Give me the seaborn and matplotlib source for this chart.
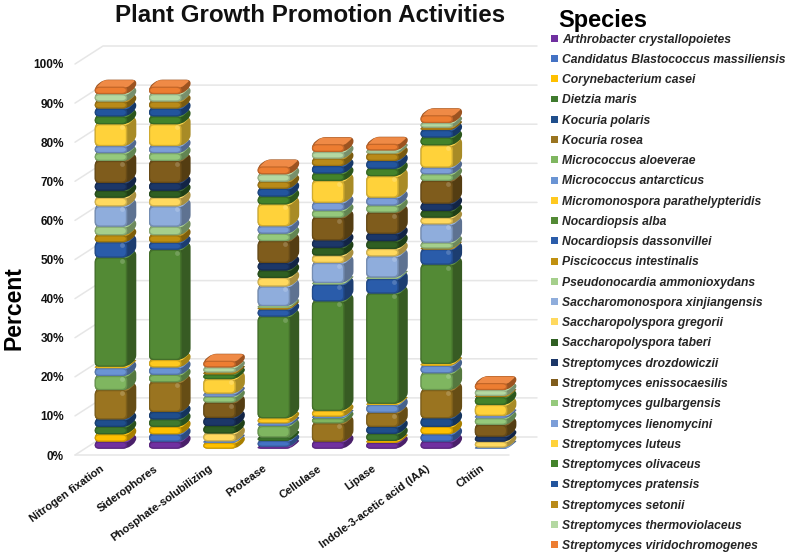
import seaborn as sns
import matplotlib.pyplot as plt
import numpy as np
from matplotlib.patches import PathPatch, Patch
from matplotlib.path import Path
from matplotlib.colors import to_rgb
from matplotlib.transforms import ScaledTranslation

species = ["Arthrobacter crystallopoietes", "Candidatus Blastococcus massiliensis", "Corynebacterium casei",
           "Dietzia maris", "Kocuria polaris", "Kocuria rosea", "Micrococcus aloeverae", "Micrococcus antarcticus",
           "Micromonospora parathelypteridis", "Nocardiopsis alba", "Nocardiopsis dassonvillei",
           "Piscicoccus intestinalis", "Pseudonocardia ammonioxydans", "Saccharomonospora xinjiangensis",
           "Saccharopolyspora gregorii", "Saccharopolyspora taberi", "Streptomyces drozdowiczii",
           "Streptomyces enissocaesilis", "Streptomyces gulbargensis", "Streptomyces lienomycini",
           "Streptomyces luteus", "Streptomyces olivaceus", "Streptomyces pratensis", "Streptomyces setonii",
           "Streptomyces thermoviolaceus", "Streptomyces viridochromogenes"]
colors = ["#7030A0", "#4472C4", "#FFC000", "#3F7A2E", "#1F4E8C", "#9A7420", "#7FB660", "#6A94D4", "#FFC91F",
          "#538A35", "#2A5CAA", "#C09010", "#A5CF8C", "#8FADDC", "#FFD95F", "#2F5F22", "#1C3768", "#7F5C1C",
          "#95C97C", "#7C9ED8", "#FFD23A", "#43832B", "#22559E", "#B98A18", "#B4D8A2", "#ED7D31"]

activities = ["Nitrogen fixation", "Siderophores", "Phosphate-solubilizing", "Protease", "Cellulase", "Lipase",
              "Indole-3-acetic acid (IAA)", "Chitin"]
# one entry per species, same order as the legend
nitrogen = [1.8, 0, 1.9, 1.9, 1.9, 7.5, 3.6, 2.0, 0.4, 27.9, 3.9, 1.8, 2.2, 5.2, 2.2, 1.8, 2.0, 5.6, 2.0, 1.8, 5.6, 2.0, 2.0, 1.8, 1.9, 1.9]
sidero = [1.8, 1.9, 1.9, 1.9, 1.9, 7.6, 1.9, 1.9, 1.9, 28.2, 1.8, 1.9, 2.2, 5.2, 2.2, 1.8, 2.0, 5.6, 2.0, 1.8, 5.6, 2.0, 2.0, 1.8, 1.9, 1.9]
phosphate = [0, 0, 1.5, 0, 0, 0, 0, 0.4, 0, 0, 0, 0, 0, 0, 2.0, 1.9, 2.1, 3.9, 1.5, 0.8, 3.7, 1.2, 0, 0.5, 1.3, 1.7]
protease = [0.5, 1.5, 0, 0.9, 0, 0, 2.9, 0.7, 1.3, 26, 1.8, 0.4, 0.5, 5, 2.2, 1.9, 1.9, 5.6, 1.9, 1.9, 5.6, 2, 2, 1.8, 1.9, 2]
cellulase = [1.8, 0, 0, 0, 0, 4.7, 1.3, 0.4, 1.5, 28, 4.3, 0, 0.4, 5.1, 1.9, 2, 1.9, 5.8, 1.8, 2, 5.6, 1.9, 1.9, 1.9, 1.7, 2]
lipase = [1.5, 0, 0.5, 1.8, 1.8, 3.6, 0, 2, 0.3, 28.2, 3.7, 0, 0.4, 5.4, 1.9, 2, 1.9, 5.4, 1.8, 2, 5.5, 1.9, 2, 1.9, 0.8, 1.7]
iaa = [1.8, 1.9, 1.9, 0, 2.2, 7.2, 4.3, 1.9, 0.5, 25.4, 3.9, 0.2, 1.5, 4.7, 1.7, 1.7, 1.9, 5.8, 1.7, 1.7, 5.7, 2, 1.9, 0.6, 1.2, 2]
chitin = [0, 0, 0, 0, 0, 0, 0, 0.3, 0, 0, 0, 0, 0, 0, 1.5, 0, 1.3, 3, 1.7, 0.6, 2.8, 2, 0, 0.3, 1.5, 1.8]

table = np.array([nitrogen, sidero, phosphate, protease, cellulase, lipase, iaa, chitin])

sns.set_theme(style="white")
plt.rcParams['font.family'] = ['Liberation Sans', 'DejaVu Sans']

W, H = 789, 558
fig = plt.figure(figsize=(W / 100, H / 100), dpi=100)
ax = fig.add_axes([75 / W, (H - 455) / H, 434 / W, 391 / H])

# px per data unit, used to keep the fake 3d depth in data units
sx = 54.3
sy = 3.91

bottoms = np.zeros(len(activities))
for i, sp in enumerate(species):
    sns.barplot(x=activities, y=table[:, i], bottom=bottoms, color=colors[i], width=0.6, saturation=1, ax=ax)
    bottoms = bottoms + table[:, i]
ax.set_xlim(-36 / sx, 398 / sx)
ax.set_ylim(0, 100)

# excel style 3d: walls, then rounded boxes on top of the real bars


def round_poly(pts, r):
    verts = []
    codes = []
    n = len(pts)
    for k in range(n):
        p = np.array(pts[k])
        a = np.array(pts[k - 1])
        b = np.array(pts[(k + 1) % n])
        pa = (a - p) * [sx, sy]
        pb = (b - p) * [sx, sy]
        ra = min(r, np.hypot(*pa) / 2)
        rb = min(r, np.hypot(*pb) / 2)
        start = p + pa / np.hypot(*pa) * ra / [sx, sy]
        end = p + pb / np.hypot(*pb) * rb / [sx, sy]
        verts += [start, p, end]
        codes += [Path.LINETO, Path.CURVE3, Path.CURVE3]
    codes[0] = Path.MOVETO
    verts.append(verts[0])
    codes.append(Path.CLOSEPOLY)
    return Path(verts, codes)


def shade(c, f):
    c = np.array(to_rgb(c))
    if f < 1:
        return tuple(c * f)
    return tuple(c + (1 - c) * (f - 1))


def add(path, col, z, alpha=1.0):
    ax.add_patch(PathPatch(path, facecolor=col, edgecolor='none', zorder=z, clip_on=False, alpha=alpha))


wall_x = 28 / sx
wall_y = 18 / sy
right = ax.get_xlim()[1]
left = ax.get_xlim()[0]
grid = "#E6E6E6"
for t in np.arange(0, 101, 10):
    ax.plot([left, left + wall_x, right + wall_x], [t, t + wall_y, t + wall_y], color=grid, lw=1.1, zorder=1, clip_on=False)
ax.plot([left, right], [0, 0], color=grid, lw=1.1, zorder=1, clip_on=False)

lift = 6.3 / sy
dx = 9 / sx
dy = 7 / sy
bars = list(ax.patches)
z = 3
for bar in bars:
    bar.set_visible(False)
order = sorted(bars, key=lambda b: (round(b.get_x(), 3), b.get_y()))
for bar in order:
    h = bar.get_height()
    if h <= 0:
        continue
    c = bar.get_facecolor()
    x0 = bar.get_x()
    w = bar.get_width()
    y0 = bar.get_y() + lift
    y1 = y0 + h
    x1 = x0 + w
    # silhouette / side face
    add(round_poly([(x0, y0), (x1, y0), (x1 + dx, y0 + dy), (x1 + dx, y1 + dy), (x0 + dx, y1 + dy), (x0, y1)], 4.5), shade(c, 0.66), z)
    # top face
    add(round_poly([(x0 + 1 / sx, y1 - 1 / sy), (x1, y1 - 1 / sy), (x1 + dx - 0.5 / sx, y1 + dy - 0.5 / sy), (x0 + dx, y1 + dy - 0.5 / sy)], 3), shade(c, 1.1), z + 0.1)
    # front face
    add(round_poly([(x0, y0), (x1, y0), (x1, y1), (x0, y1)], 4.5), shade(c, 0.82), z + 0.2)
    inset = min(1.2, h * sy / 3)
    add(round_poly([(x0 + inset / sx, y0 + inset / sy), (x1 - 1.5 / sx, y0 + inset / sy),
                    (x1 - 1.5 / sx, y1 - inset / sy), (x0 + inset / sx, y1 - inset / sy)], 4), c, z + 0.3)
    # glint near the back corner on the taller blocks
    if h * sy > 14:
        ax.scatter([x1 - 5 / sx], [y1 - 3 / sy], s=12, color=shade(c, 1.3), alpha=0.6, linewidths=0, zorder=z + 0.4, clip_on=False)
    z += 1

ax.set_yticks(np.arange(0, 101, 10))
ax.set_yticklabels([f"{t}%" for t in range(0, 101, 10)], fontsize=8.5, fontweight='bold', color='#111111')
ax.set_xticks(range(len(activities)))
ax.set_xticklabels(activities, rotation=36, ha='right', rotation_mode='anchor', fontsize=8, fontweight='bold', color='#111111')
ax.tick_params(axis='both', length=0)
ax.tick_params(axis='y', pad=8)
ax.tick_params(axis='x', pad=6)
shift = ScaledTranslation(-11 / 100, 0, fig.dpi_scale_trans)
for lab in ax.get_xticklabels():
    lab.set_transform(lab.get_transform() + shift)
ax.set_xlabel("")
ax.set_ylabel("")
for s in ax.spines.values():
    s.set_visible(False)
ax.patch.set_alpha(0)

fig.text(310 / W, 1 - 16 / H, "Plant Growth Promotion Activities", ha='center', va='center', fontsize=17.4, fontweight='bold', color='#111111')
fig.text(14 / W, 1 - 308 / H, "Percent", rotation=90, ha='center', va='center', fontsize=16.5, fontweight='bold', color='black')
fig.text(558 / W, 1 - 20 / H, "Species", ha='left', va='center', fontsize=17, fontweight='bold', color='black')

handles = [Patch(facecolor=c, edgecolor='none', label=s) for s, c in zip(species, colors)]
leg = ax.legend(handles=handles, loc='upper left', bbox_to_anchor=(551 / W, 1 - 33.5 / H),
                bbox_transform=fig.transFigure, frameon=False, ncol=1,
                prop={'weight': 'bold', 'style': 'italic', 'size': 8.7}, labelspacing=0.684,
                handlelength=0.6, handleheight=0.5, handletextpad=0.35, borderaxespad=0, borderpad=0)

fig.savefig("out.png", dpi=100)
